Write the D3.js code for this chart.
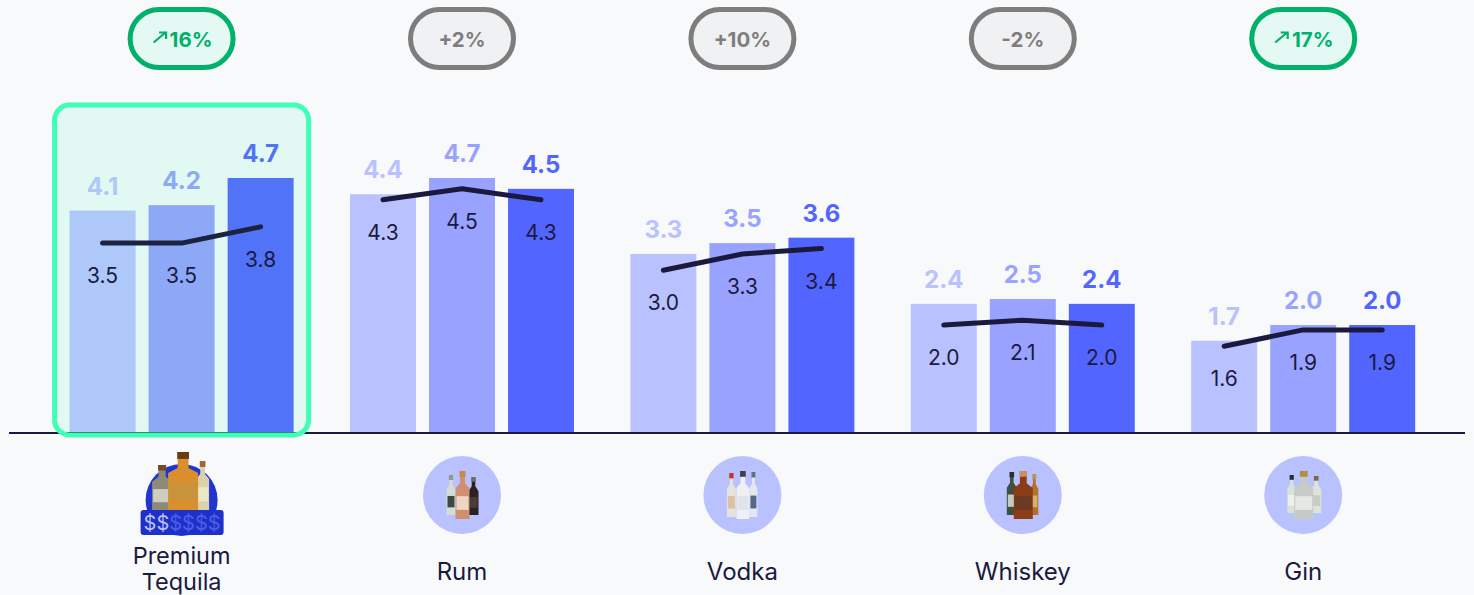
<!DOCTYPE html>
<html>
<head>
<meta charset="utf-8">
<script src="https://cdn.jsdelivr.net/npm/d3@7"></script>
<style>
  html, body { margin: 0; padding: 0; background: #f7f9fb; overflow: hidden; }
  svg { display: block; font-family: Inter, "Noto Sans", sans-serif; }
</style>
</head>
<body>
<div id="chart"></div>
<script>
const categories = ["Premium Tequila", "Rum", "Vodka", "Whiskey", "Gin"];
const barsFirst = [4.1, 4.4, 3.3, 2.38, 1.7];
const barsMiddle = [4.2, 4.7, 3.5, 2.47, 1.99];
const barsLast = [4.7, 4.5, 3.6, 2.38, 1.99];
const lineFirst = [3.5, 4.3, 3.0, 1.99, 1.6];
const lineMiddle = [3.5, 4.5, 3.3, 2.08, 1.9];
const lineLast = [3.8, 4.3, 3.4, 1.99, 1.9];
const changes = ["16%", "+2%", "+10%", "-2%", "17%"];
const changeUp = [true, false, false, false, true];

const width = 1474, height = 595;
const baseY = 433;

const xScale = d3.scaleBand().domain(categories).range([41.4, 1443.4]);
const xInner = d3.scaleBand().domain([0, 1, 2]).range([-112, 112]).paddingInner(0.165);
const yScale = d3.scaleLinear().domain([0, 4.7]).range([baseY, 178]);

const colors = ["#b9c1ff", "#99a3ff", "#5365ff"];
const colorsHighlight = ["#adc8f9", "#8ca8f7", "#5073f7"];
const ink = "#1b1a3e";

const svg = d3.select("#chart").append("svg")
    .attr("width", width)
    .attr("height", height);

svg.append("rect").attr("width", width).attr("height", height).attr("fill", "#f7f9fb");

// Slight softening, the icons in the reference are small photos
const defs = svg.append("defs");
defs.append("filter").attr("id", "soft")
    .append("feGaussianBlur").attr("stdDeviation", 0.45);

const center = d => xScale(d) + xScale.bandwidth() / 2;
const top5 = categories[0];

// Highlight box behind the first group
svg.append("rect")
    .attr("x", center(top5) - 127)
    .attr("y", 105)
    .attr("width", 254)
    .attr("height", 330)
    .attr("rx", 15)
    .attr("fill", "#e2f8f3");

// Baseline
svg.append("line")
    .attr("x1", 9).attr("x2", 1465)
    .attr("y1", baseY).attr("y2", baseY)
    .attr("stroke", ink)
    .attr("stroke-width", 2);

// Bars and labels
const barSeries = [barsFirst, barsMiddle, barsLast];
const lineSeries = [lineFirst, lineMiddle, lineLast];

const groups = svg.selectAll(".group")
    .data(categories)
    .join("g")
    .attr("class", "group")
    .attr("transform", d => `translate(${center(d)}, 0)`);

groups.each(function (cat, c) {
    const g = d3.select(this);
    const pal = c === 0 ? colorsHighlight : colors;

    barSeries.forEach((values, s) => {
        g.append("rect")
            .attr("x", xInner(s))
            .attr("y", yScale(values[c]))
            .attr("width", xInner.bandwidth())
            .attr("height", baseY - yScale(values[c]) - 1)
            .attr("fill", pal[s]);

        g.append("text")
            .attr("x", xInner(s) + xInner.bandwidth() / 2)
            .attr("y", yScale(values[c]) - 16)
            .attr("text-anchor", "middle")
            .attr("font-size", 24)
            .attr("font-weight", 700)
            .attr("fill", pal[s])
            .text(values[c].toFixed(1));
    });

    const line = d3.line()
        .x((d, s) => xInner(s) + xInner.bandwidth() / 2)
        .y(d => yScale(d));

    const pts = lineSeries.map(values => values[c]);
    g.append("path")
        .datum(pts)
        .attr("fill", "none")
        .attr("stroke", c === 0 ? "#1c2340" : ink)
        .attr("stroke-width", 5)
        .attr("stroke-linecap", "round")
        .attr("stroke-linejoin", "round")
        .attr("d", line);

    pts.forEach((v, s) => {
        g.append("text")
            .attr("x", xInner(s) + xInner.bandwidth() / 2)
            .attr("y", yScale(v) + 40)
            .attr("text-anchor", "middle")
            .attr("font-size", 21)
            .attr("fill", ink)
            .text(v.toFixed(1));
    });
});

// Highlight outline on top of the bars and baseline
svg.append("rect")
    .attr("x", center(top5) - 127)
    .attr("y", 105)
    .attr("width", 254)
    .attr("height", 330)
    .attr("rx", 15)
    .attr("fill", "none")
    .attr("stroke", "#3dffb5")
    .attr("stroke-width", 5);

// Change pills
categories.forEach((cat, i) => {
    const up = changeUp[i];
    const col = up ? "#00b06b" : "#7d7d7d";
    const pill = svg.append("g").attr("transform", `translate(${center(cat)}, 38.5)`);
    pill.append("rect")
        .attr("x", -51.5).attr("y", -29)
        .attr("width", 103).attr("height", 58)
        .attr("rx", 29)
        .attr("fill", up ? "#e4f9f4" : "#f0f1f3")
        .attr("stroke", col)
        .attr("stroke-width", 5);
    pill.append("text")
        .attr("x", up ? 9.5 : 0)
        .attr("y", 8.5)
        .attr("text-anchor", "middle")
        .attr("font-size", 20.5)
        .attr("font-weight", 700)
        .attr("fill", col)
        .text(changes[i]);
    if (up) {
        pill.append("path")
            .attr("d", "M-28,4 L-16,-6 M-22.5,-6 L-15.5,-6 L-15.5,0.5")
            .attr("fill", "none")
            .attr("stroke", col)
            .attr("stroke-width", 2.2);
    }
});

// Category labels
categories.forEach((cat, i) => {
    if (i === 0) {
        cat.split(" ").forEach((w, k) => {
            svg.append("text")
                .attr("text-anchor", "middle")
                .attr("font-size", 23.5)
                .attr("fill", ink)
                .attr("x", center(cat))
                .attr("y", 563.5 + k * 26.5)
                .text(w);
        });
    } else {
        svg.append("text")
            .attr("text-anchor", "middle")
            .attr("font-size", 24)
            .attr("fill", ink)
            .attr("x", center(cat))
            .attr("y", 580)
            .text(cat);
    }
});

// Bottle icons, drawn by hand: [dx, width, top, bottom, glass, cap, label]
function bottle(g, dx, w, top, bottom, glass, cap, tag) {
    const neck = w * 0.36;
    const shoulder = top + (bottom - top) * 0.32;
    const neckTop = top + (bottom - top) * 0.1;
    g.append("path")
        .attr("d", `M${dx - neck / 2},${neckTop} L${dx + neck / 2},${neckTop} L${dx + neck / 2},${shoulder - 3}
            L${dx + w / 2},${shoulder + 2} L${dx + w / 2},${bottom} L${dx - w / 2},${bottom} L${dx - w / 2},${shoulder + 2}
            L${dx - neck / 2},${shoulder - 3} Z`)
        .attr("fill", glass);
    g.append("rect")
        .attr("x", dx - neck / 2 - 0.5).attr("y", top)
        .attr("width", neck + 1).attr("height", neckTop - top + 1)
        .attr("fill", cap);
    g.append("rect")
        .attr("x", dx - w / 2 + 1).attr("y", shoulder + (bottom - shoulder) * 0.3)
        .attr("width", w - 2).attr("height", (bottom - shoulder) * 0.42)
        .attr("fill", tag);
}

const iconBottles = {
    "Rum": [
        [-11, 9, 475, 515, "#d5dcd6", "#8f9a90", "#3c4a42"],
        [11.5, 10, 477, 515, "#2a2122", "#6f6a5e", "#4a3a34"],
        [0.5, 14, 471, 519, "#cf8f70", "#c68a4c", "#eed5c6"]
    ],
    "Vodka": [
        [-11, 9, 473, 517, "#e6e2dc", "#c8322b", "#d9c3a6"],
        [11, 8, 472, 517, "#e4e8ee", "#6a7078", "#54688c"],
        [0.5, 13, 471, 519, "#eef0f4", "#3f4248", "#dfe3ea"]
    ],
    "Whiskey": [
        [-11, 10, 472, 515, "#3f4f3f", "#25302a", "#c8ccc0"],
        [11.5, 8, 474, 515, "#b5702c", "#b79060", "#d7b070"],
        [0.5, 19, 471, 519, "#8a3d14", "#c98e62", "#6a3b22"]
    ],
    "Gin": [
        [-11.5, 9, 475, 513, "#d6e2da", "#2b2f2d", "#eef2ee"],
        [13, 10, 476, 513, "#dfe3dc", "#7d6b40", "#c8ccc4"],
        [0.5, 19, 471, 519, "#c6cbc8", "#b08f3c", "#e6e8e6"]
    ]
};

categories.slice(1).forEach(cat => {
    const g = svg.append("g").attr("transform", `translate(${center(cat)}, 0)`);
    g.append("circle").attr("cy", 495).attr("r", 39).attr("fill", "#b9c1ff");
    const art = g.append("g").attr("filter", "url(#soft)");
    iconBottles[cat].forEach(b => bottle(art, ...b));
});

// Tequila icon with the price badge
const teq = svg.append("g").attr("transform", `translate(${center(top5)}, 0)`);
teq.append("circle").attr("cy", 500).attr("r", 36).attr("fill", "#1f35cf");
const teqArt = teq.append("g").attr("filter", "url(#soft)");
bottle(teqArt, -19.5, 20, 465, 511, "#8f8a78", "#7a4a26", "#cfcdbf");
bottle(teqArt, 21, 13, 461, 511, "#d9d3ac", "#9a6a34", "#ece6c8");
bottle(teqArt, 1.5, 30, 452, 511, "#d98f2e", "#6b3a16", "#c9923e");
teq.append("rect")
    .attr("x", -41).attr("y", 510)
    .attr("width", 83).attr("height", 25)
    .attr("rx", 3)
    .attr("fill", "#1f30c9");
const price = teq.append("text")
    .attr("x", 0.5).attr("y", 530)
    .attr("text-anchor", "middle")
    .attr("font-size", 20);
price.append("tspan").attr("fill", "#b9c1ff").text("$$");
price.append("tspan").attr("fill", "#4a60e6").text("$$$$");
</script>
</body>
</html>
